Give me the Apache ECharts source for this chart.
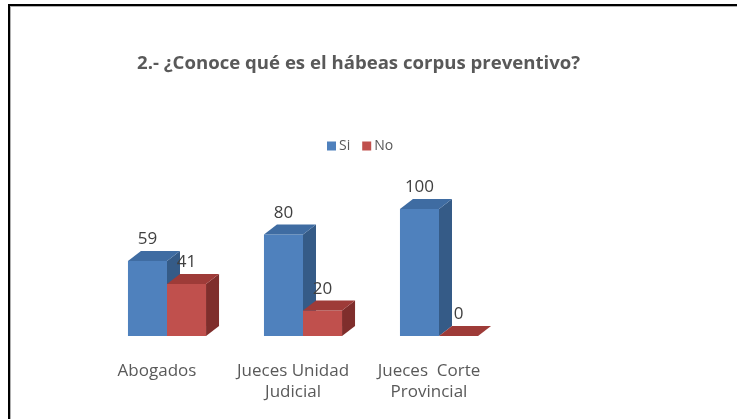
<!DOCTYPE html>
<html>
<head>
<meta charset="utf-8">
<script src="https://cdn.jsdelivr.net/npm/echarts@6/dist/echarts.min.js"></script>
<style>
html,body{margin:0;padding:0;background:#fff;}
#chart{width:737px;height:419px;}
</style>
</head>
<body>
<div id="chart"></div>
<script>
var categories = ['Abogados', 'Jueces Unidad\nJudicial', 'Jueces  Corte\nProvincial'];
var seriesNames = ['Si', 'No'];
var siValues = [59, 80, 100];
var noValues = [41, 20, 0];
var titleText = '2.- ¿Conoce qué es el hábeas corpus preventivo?';

var FONT = '"Open Sans", sans-serif';
var TEXT_COLOR = '#595959';
var BAR_FRAC = 0.287;
var DX = 13, DY = 10;
var palettes = [
  {front: '#4F81BD', top: '#3F6CA2', side: '#355B87'},
  {front: '#C0504D', top: '#9E3B38', side: '#7F2E2C'}
];

function makeRender(idx) {
  return function (params, api) {
    var cat = api.value(0), val = api.value(1);
    var base = api.coord([cat, 0]);
    var tp = api.coord([cat, val]);
    var band = api.size([1, 0])[0];
    var w = band * BAR_FRAC;
    var x0 = base[0] + (idx === 0 ? -w : 0);
    var x1 = x0 + w;
    var yb = base[1], yt = tp[1];
    var p = palettes[idx];
    return {
      type: 'group',
      children: [
        {type: 'polygon', shape: {points: [[x1, yt], [x1 + DX, yt - DY], [x1 + DX, yb - DY], [x1, yb]]}, style: {fill: p.side}},
        {type: 'rect', shape: {x: x0, y: yt, width: w, height: yb - yt}, style: {fill: p.front}},
        {type: 'polygon', shape: {points: [[x0, yt], [x0 + DX, yt - DY], [x1 + DX, yt - DY], [x1, yt]]}, style: {fill: p.top}},
        {type: 'text', x: (x0 + x1) / 2, y: yt - DY - 3, style: {text: String(val), fill: '#404040', font: '17px ' + FONT, align: 'center', verticalAlign: 'bottom'}}
      ]
    };
  };
}

var chart = echarts.init(document.getElementById('chart'));
chart.setOption({
  backgroundColor: '#fff',
  animation: false,
  title: {
    text: titleText,
    left: 137,
    top: 54,
    padding: 0,
    textStyle: {fontFamily: FONT, fontSize: 18.6, fontWeight: 'bold', color: TEXT_COLOR}
  },
  legend: {
    data: seriesNames,
    left: 327,
    top: 139,
    padding: 0,
    itemWidth: 9,
    itemHeight: 9,
    itemGap: 12,
    icon: 'rect',
    textStyle: {fontFamily: FONT, fontSize: 14, color: TEXT_COLOR, padding: [0, 0, 0, -2]}
  },
  grid: {left: 99, width: 408, top: 209, bottom: 83},
  xAxis: {
    type: 'category',
    data: categories,
    axisLine: {show: false},
    axisTick: {show: false},
    axisLabel: {interval: 0, hideOverlap: false, margin: 25, fontFamily: FONT, fontSize: 17, color: TEXT_COLOR, lineHeight: 21, padding: [0, 20, 0, 0]}
  },
  yAxis: {type: 'value', min: 0, max: 100, show: false, splitLine: {show: false}},
  graphic: [
    {type: 'rect', shape: {x: 8, y: 4, width: 2, height: 415}, style: {fill: '#000'}},
    {type: 'rect', shape: {x: 8, y: 4, width: 729, height: 2}, style: {fill: '#000'}},
    {type: 'rect', shape: {x: 10, y: 6, width: 1, height: 413}, style: {fill: '#b0b0b0'}},
    {type: 'rect', shape: {x: 10, y: 6, width: 727, height: 1}, style: {fill: '#b0b0b0'}}
  ],
  series: [
    {name: seriesNames[0], type: 'custom', renderItem: makeRender(0), itemStyle: {color: palettes[0].front},
     data: siValues.map(function (v, i) { return [i, v]; }), encode: {x: 0, y: 1}},
    {name: seriesNames[1], type: 'custom', renderItem: makeRender(1), itemStyle: {color: palettes[1].front},
     data: noValues.map(function (v, i) { return [i, v]; }), encode: {x: 0, y: 1}}
  ]
});
</script>
</body>
</html>
